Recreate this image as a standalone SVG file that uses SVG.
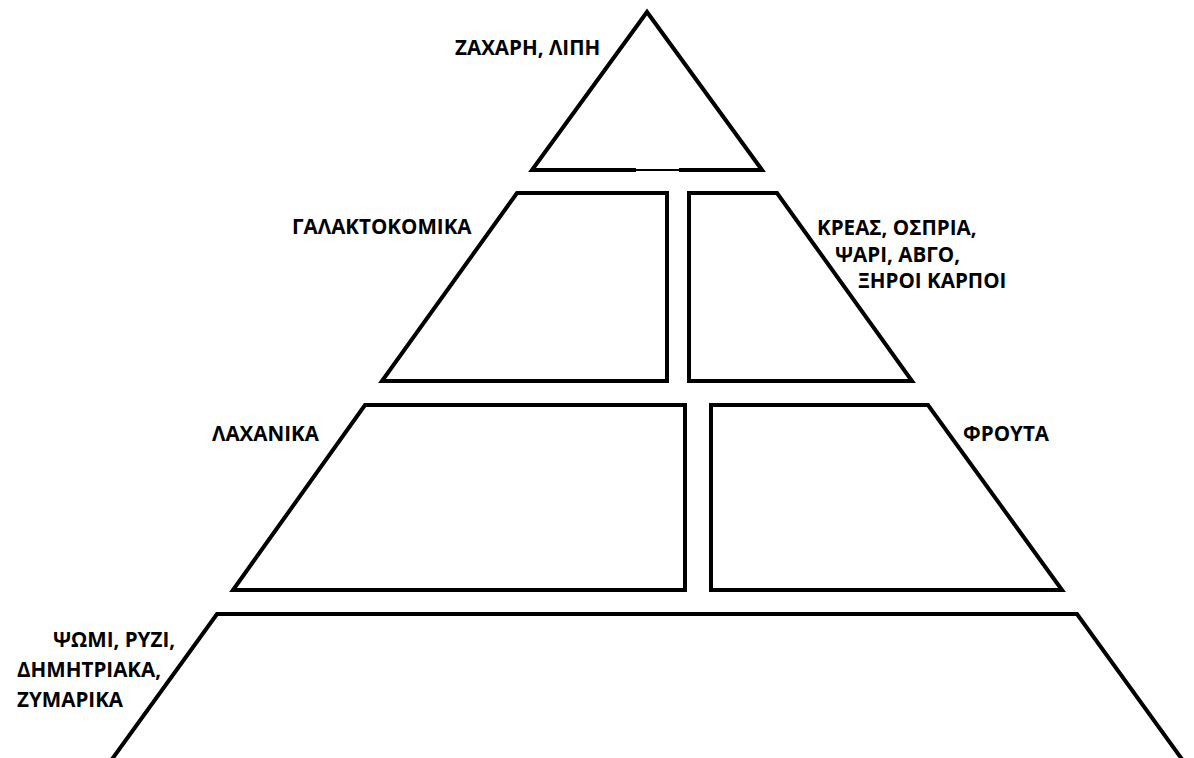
<svg xmlns="http://www.w3.org/2000/svg" width="1194" height="758" viewBox="0 0 1194 758">
<style>
.s{fill:#fff;stroke:#000;stroke-width:4;stroke-linejoin:miter;stroke-miterlimit:10}
.t{font-family:"Open Sans","Liberation Sans",sans-serif;font-weight:bold;font-size:20.6px;fill:#000}
</style>
<rect width="1194" height="758" fill="#fff"/>
<g id="tier1">
<path class="s" d="M636,170 L532,170 L647,12 L762,170 L679,170"/>
<line x1="634" y1="170" x2="681" y2="170" stroke="#000" stroke-width="2"/>
<text class="t" x="455" y="55">ΖΑΧΑΡΗ, ΛΙΠΗ</text>
</g>
<g id="tier2-left">
<polygon class="s" points="517,193 667,193 667,381 382,381"/>
<text class="t" x="292" y="234">ΓΑΛΑΚΤΟΚΟΜΙΚΑ</text>
</g>
<g id="tier2-right">
<polygon class="s" points="689,193 777,193 912,381 689,381"/>
<text class="t" x="817" y="235">ΚΡΕΑΣ, ΟΣΠΡΙΑ,</text>
<text class="t" x="835" y="262">ΨΑΡΙ, ΑΒΓΟ,</text>
<text class="t" x="858" y="288">ΞΗΡΟΙ ΚΑΡΠΟΙ</text>
</g>
<g id="tier3-left">
<polygon class="s" points="365,405 685,405 685,590 233,590"/>
<text class="t" x="212" y="441">ΛΑΧΑΝΙΚΑ</text>
</g>
<g id="tier3-right">
<polygon class="s" points="711,405 928,405 1062,590 711,590"/>
<text class="t" x="963" y="441">ΦΡΟΥΤΑ</text>
</g>
<g id="tier4">
<path class="s" d="M110,762 L217,614 L1077,614 L1184,762"/>
<text class="t" x="53" y="647">ΨΩΜΙ, ΡΥΖΙ,</text>
<text class="t" x="17" y="677">ΔΗΜΗΤΡΙΑΚΑ,</text>
<text class="t" x="17" y="707">ΖΥΜΑΡΙΚΑ</text>
</g>
<g id="connectors"></g>
</svg>
